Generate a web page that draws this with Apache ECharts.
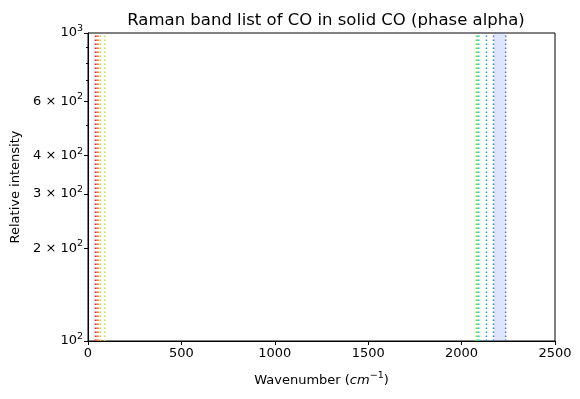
<!DOCTYPE html>
<html>
<head>
<meta charset="utf-8">
<script src="https://cdn.jsdelivr.net/npm/echarts@6/dist/echarts.min.js"></script>
<style>html,body{margin:0;padding:0;background:#fff}#c{width:580px;height:399px}</style>
</head>
<body>
<div id="c"></div>
<script>
// Band positions (cm^-1)
const bandPositions = [40, 48, 54, 66, 90, 2079, 2086, 2092, 2133];
const broadBand = [2171, 2236];
const yRange = [100, 1000];
const xTicks = [0, 500, 1000, 1500, 2000, 2500];
const yMajorTicks = [100, 200, 300, 400, 600, 1000];
const yMinorTicks = [500, 700, 800, 900];
const yTickLabels = {100: '{b|10}{s|2}', 200: '{b|2 × 10}{s|2}', 300: '{b|3 × 10}{s|2}', 400: '{b|4 × 10}{s|2}', 600: '{b|6 × 10}{s|2}', 1000: '{b|10}{s|3}'};

const bandColors = ['#d9302a', '#f0542a', '#f5842c', '#f7b43a', '#c8e23a', '#7ddc36', '#4fe07a', '#28c8d6', '#1e8fff'];
const broadColor = '#4a72e0';

const series = bandPositions.map((x, i) => ({
  type: 'line', data: [[x, yRange[0]], [x, yRange[1]]], symbol: 'none', silent: true,
  lineStyle: { color: bandColors[i], width: 1.5, type: [1.5, 2.5] }
}));
broadBand.forEach((x, i) => {
  const s = {
    type: 'line', data: [[x, yRange[0]], [x, yRange[1]]], symbol: 'none', silent: true,
    lineStyle: { color: broadColor, width: 1.5, type: [1.5, 2.5] }
  };
  if (i === 0) {
    s.markArea = { silent: true, itemStyle: { color: 'rgba(100,140,230,0.22)' },
      data: [[{ xAxis: broadBand[0] }, { xAxis: broadBand[1] }]] };
  }
  series.push(s);
});

const font = 'DejaVu Sans';
const chart = echarts.init(document.getElementById('c'), null, { renderer: 'canvas' });
chart.setOption({
  animation: false,
  backgroundColor: '#fff',
  title: { text: 'Raman band list of CO in solid CO (phase alpha)', left: 321, top: 7, textAlign: 'center',
    textStyle: { fontFamily: font, fontSize: 16.5, fontWeight: 'normal', color: '#000' } },
  grid: { left: 88, right: 25, top: 33, bottom: 58, show: true, borderColor: '#000', borderWidth: 1,
    backgroundColor: 'transparent', containLabel: false, outerBoundsMode: 'none' },
  xAxis: {
    type: 'value', min: 0, max: 2500, interval: 500,
    name: 'Wavenumber ({i|cm}{s|−1})', nameLocation: 'middle', nameGap: 30,
    nameTextStyle: { fontFamily: font, fontSize: 13, color: '#000',
      rich: { i: { fontFamily: font, fontStyle: 'italic', fontSize: 13 }, s: { fontFamily: font, fontSize: 9.5, verticalAlign: 'bottom', padding: [0, 0, 10, 0] } } },
    axisLine: { show: true, lineStyle: { color: '#000', width: 1 } },
    axisTick: { show: true, inside: false, length: 4, lineStyle: { color: '#000' } },
    axisLabel: { fontFamily: font, fontSize: 13, color: '#000', margin: 6, formatter: v => String(v) },
    splitLine: { show: false }
  },
  yAxis: [{
    type: 'log', logBase: 10, min: yRange[0], max: yRange[1],
    name: 'Relative intensity', nameLocation: 'middle', nameGap: 64, nameRotate: 90,
    nameTextStyle: { fontFamily: font, fontSize: 13, color: '#000' },
    axisLine: { show: true, lineStyle: { color: '#000', width: 1 } },
    axisTick: { show: true, length: 4, customValues: yMajorTicks, lineStyle: { color: '#000' } },
    axisLabel: { fontFamily: font, fontSize: 13, color: '#000', margin: 5, customValues: yMajorTicks,
      formatter: v => yTickLabels[Math.round(v)] || '',
      rich: { b: { fontFamily: font, fontSize: 13, color: '#000' }, s: { fontFamily: font, fontSize: 9.5, color: '#000', verticalAlign: 'bottom', padding: [0, 0, 9, 0] } } },
    splitLine: { show: false }
  }, {
    type: 'log', logBase: 10, min: yRange[0], max: yRange[1], position: 'left',
    axisLine: { show: false },
    axisTick: { show: true, length: 2, customValues: yMinorTicks, lineStyle: { color: '#000' } },
    axisLabel: { show: false },
    splitLine: { show: false }
  }],
  series: series
});
</script>
</body>
</html>
